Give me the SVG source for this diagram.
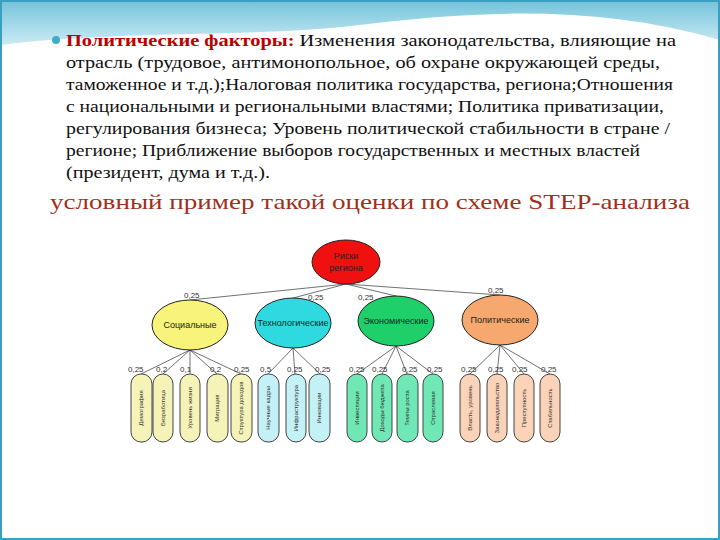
<svg xmlns="http://www.w3.org/2000/svg" width="720" height="540" viewBox="0 0 720 540">
<defs>
<linearGradient id="bg" x1="0" y1="0" x2="0" y2="1"><stop offset="0" stop-color="#4fb3d0"/><stop offset="1" stop-color="#bfe6f2"/></linearGradient>
<style>
.t{font-family:"Liberation Serif",serif;font-size:17px;fill:#111}
.h{fill:#b00;font-weight:bold}
.e{stroke:#222;stroke-width:1}
.l{font-family:"Liberation Sans",sans-serif;font-size:9px;fill:#222;text-anchor:middle}
.w{font-family:"Liberation Sans",sans-serif;font-size:8px;fill:#333}
.p{font-family:"Liberation Sans",sans-serif;font-size:6px;fill:#333;text-anchor:middle}
#conn line{stroke:#333;stroke-width:0.7}
.ys{fill:#f6f3b8;stroke:#444}.cs{fill:#c4f1f6;stroke:#444}.gs{fill:#6fe8b5;stroke:#444}.os{fill:#fbd3b9;stroke:#444}
</style>
</defs>
<rect width="720" height="540" fill="#fff"/>
<path d="M0 0H720V40C600 5 480 10 360 25 C250 38 120 30 0 45Z" fill="url(#bg)" opacity="0.8"/>
<rect x="1" y="1" width="718" height="538" fill="none" stroke="#3a9fc0" stroke-width="2"/>
<circle cx="56" cy="40" r="4" fill="#3ab0c8"/>
<text class="t" x="66" y="46" textLength="610" lengthAdjust="spacingAndGlyphs"><tspan class="h">Политические факторы:</tspan> Изменения законодательства, влияющие на</text>
<text class="t" x="66" y="68" textLength="594" lengthAdjust="spacingAndGlyphs">отрасль (трудовое, антимонопольное, об охране окружающей среды,</text>
<text class="t" x="66" y="90" textLength="607" lengthAdjust="spacingAndGlyphs">таможенное и т.д.);Налоговая политика государства, региона;Отношения</text>
<text class="t" x="66" y="112" textLength="598" lengthAdjust="spacingAndGlyphs">с национальными и региональными властями; Политика приватизации,</text>
<text class="t" x="66" y="134" textLength="604" lengthAdjust="spacingAndGlyphs">регулирования бизнеса; Уровень политической стабильности в стране /</text>
<text class="t" x="66" y="156" textLength="574" lengthAdjust="spacingAndGlyphs">регионе; Приближение выборов государственных и местных властей</text>
<text class="t" x="66" y="178" textLength="204" lengthAdjust="spacingAndGlyphs">(президент, дума и т.д.).</text>
<text x="50" y="209" font-family="Liberation Serif,serif" font-size="22" fill="#a0301a" textLength="640" lengthAdjust="spacingAndGlyphs">условный пример такой оценки по схеме STEP-анализа</text>
<g id="conn">
<line x1="346" y1="284" x2="190" y2="300"/><line x1="346" y1="284" x2="293" y2="298"/><line x1="346" y1="284" x2="396" y2="296"/><line x1="346" y1="284" x2="500" y2="295"/>
<line x1="190" y1="350" x2="141" y2="374"/><line x1="190" y1="350" x2="163" y2="374"/><line x1="190" y1="350" x2="190" y2="374"/><line x1="190" y1="350" x2="217" y2="374"/><line x1="190" y1="350" x2="241" y2="374"/>
<line x1="293" y1="348" x2="268" y2="374"/><line x1="293" y1="348" x2="295" y2="374"/><line x1="293" y1="348" x2="320" y2="374"/>
<line x1="396" y1="346" x2="357" y2="374"/><line x1="396" y1="346" x2="382" y2="374"/><line x1="396" y1="346" x2="407" y2="374"/><line x1="396" y1="346" x2="433" y2="374"/>
<line x1="500" y1="345" x2="470" y2="374"/><line x1="500" y1="345" x2="497" y2="374"/><line x1="500" y1="345" x2="524" y2="374"/><line x1="500" y1="345" x2="550" y2="374"/>
</g>
<g class="w">
<text x="184" y="298">0,25</text><text x="308" y="300">0,25</text><text x="358" y="300">0,25</text><text x="488" y="293">0,25</text>
<text x="128" y="372">0,25</text><text x="156" y="372">0,2</text><text x="180" y="372">0,1</text><text x="210" y="372">0,2</text><text x="234" y="372">0,25</text>
<text x="260" y="372">0,5</text><text x="287" y="372">0,25</text><text x="315" y="372">0,25</text>
<text x="349" y="372">0,25</text><text x="372" y="372">0,25</text><text x="402" y="372">0,25</text><text x="427" y="372">0,25</text>
<text x="461" y="372">0,25</text><text x="488" y="372">0,25</text><text x="512" y="372">0,25</text><text x="541" y="372">0,25</text>
</g>
<g id="root"><ellipse class="e" cx="346" cy="262" rx="34" ry="22" fill="#f01010"/><text class="l" x="346" y="259">Риски</text><text class="l" x="346" y="271">региона</text></g>
<g id="soc"><ellipse class="e" cx="190" cy="325" rx="38" ry="25" fill="#f8f37a"/><text class="l" x="190" y="328">Социальные</text></g>
<g id="tech"><ellipse class="e" cx="293" cy="323" rx="38" ry="25" fill="#2fd9e0"/><text class="l" x="293" y="326">Технологические</text></g>
<g id="econ"><ellipse class="e" cx="396" cy="321" rx="38" ry="25" fill="#1fd06a"/><text class="l" x="396" y="324">Экономические</text></g>
<g id="pol"><ellipse class="e" cx="500" cy="320" rx="38" ry="25" fill="#f6a86e"/><text class="l" x="500" y="323">Политические</text></g>
<g id="pills">
<g><rect class="ys" x="131" y="374" width="21" height="68" rx="10"/><text class="p" transform="translate(143,408) rotate(-90)">Демография</text></g>
<g><rect class="ys" x="153" y="374" width="20" height="68" rx="10"/><text class="p" transform="translate(165,408) rotate(-90)">Безработица</text></g>
<g><rect class="ys" x="180" y="374" width="20" height="68" rx="10"/><text class="p" transform="translate(192,408) rotate(-90)">Уровень жизни</text></g>
<g><rect class="ys" x="207" y="374" width="21" height="68" rx="10"/><text class="p" transform="translate(219,408) rotate(-90)">Миграция</text></g>
<g><rect class="ys" x="231" y="374" width="21" height="68" rx="10"/><text class="p" transform="translate(243,408) rotate(-90)">Структура доходов</text></g>
<g><rect class="cs" x="258" y="374" width="21" height="68" rx="10"/><text class="p" transform="translate(270,408) rotate(-90)">Научные кадры</text></g>
<g><rect class="cs" x="286" y="374" width="20" height="68" rx="10"/><text class="p" transform="translate(298,408) rotate(-90)">Инфраструктура</text></g>
<g><rect class="cs" x="309" y="374" width="21" height="68" rx="10"/><text class="p" transform="translate(321,408) rotate(-90)">Инновации</text></g>
<g><rect class="gs" x="347" y="374" width="20" height="68" rx="10"/><text class="p" transform="translate(359,408) rotate(-90)">Инвестиции</text></g>
<g><rect class="gs" x="372" y="374" width="20" height="68" rx="10"/><text class="p" transform="translate(384,408) rotate(-90)">Доходы бюджета</text></g>
<g><rect class="gs" x="397" y="374" width="21" height="68" rx="10"/><text class="p" transform="translate(409,408) rotate(-90)">Темпы роста</text></g>
<g><rect class="gs" x="423" y="374" width="20" height="68" rx="10"/><text class="p" transform="translate(435,408) rotate(-90)">Отраслевая</text></g>
<g><rect class="os" x="460" y="374" width="20" height="68" rx="10"/><text class="p" transform="translate(472,408) rotate(-90)">Власть, уровень</text></g>
<g><rect class="os" x="487" y="374" width="20" height="68" rx="10"/><text class="p" transform="translate(499,408) rotate(-90)">Законодательство</text></g>
<g><rect class="os" x="514" y="374" width="20" height="68" rx="10"/><text class="p" transform="translate(526,408) rotate(-90)">Преступность</text></g>
<g><rect class="os" x="540" y="374" width="20" height="68" rx="10"/><text class="p" transform="translate(552,408) rotate(-90)">Стабильность</text></g>
</g>
</svg>
